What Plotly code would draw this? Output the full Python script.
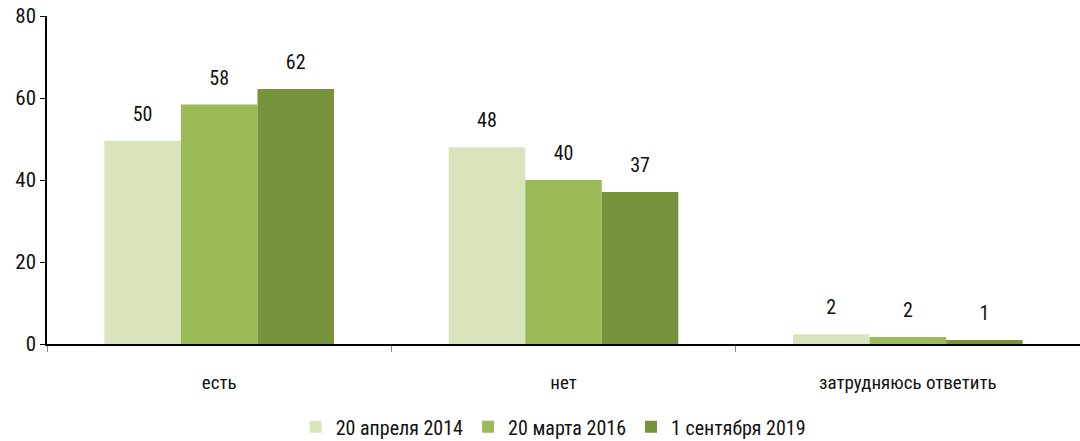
import plotly.graph_objects as go

# Survey answers and the three poll dates
categories = ["есть", "нет", "затрудняюсь ответить"]
series_names = ["20 апреля 2014", "20 марта 2016", "1 сентября 2019"]
values_2014 = [49.6, 48.0, 2.4]
values_2016 = [58.4, 40.0, 1.7]
values_2019 = [62.2, 37.1, 1.0]
labels_2014 = ["50", "48", "2"]
labels_2016 = ["58", "40", "2"]
labels_2019 = ["62", "37", "1"]

colors = ["#d8e4bc", "#9bbb59", "#77933c"]
font_family = "Liberation Sans Narrow, Roboto Condensed, Roboto, sans-serif"

fig = go.Figure()

series = [
    (series_names[0], values_2014, labels_2014),
    (series_names[1], values_2016, labels_2016),
    (series_names[2], values_2019, labels_2019),
]

for i, (name, vals, labels) in enumerate(series):
    fig.add_trace(go.Bar(
        x=categories,
        y=vals,
        name=name,
        marker=dict(color=colors[i], line=dict(width=0)),
        offsetgroup=str(i),
    ))
    # invisible markers carry the value labels a bit above the bars
    fig.add_trace(go.Scatter(
        x=categories,
        y=vals,
        mode="markers+text",
        text=labels,
        textposition="top center",
        textfont=dict(size=20, color="#111111", family=font_family),
        marker=dict(size=22, opacity=0),
        offsetgroup=str(i),
        showlegend=False,
        hoverinfo="skip",
        cliponaxis=False,
    ))

fig.update_layout(
    width=1080,
    height=441,
    barmode="group",
    scattermode="group",
    bargap=0.333,
    bargroupgap=0,
    plot_bgcolor="white",
    paper_bgcolor="white",
    margin=dict(l=47, r=0, t=16, b=97, autoexpand=False),
    font=dict(family=font_family, size=18, color="#111111"),
    legend=dict(
        orientation="h",
        x=0.49,
        xanchor="center",
        y=-0.193,
        yanchor="top",
        font=dict(size=20),
        itemwidth=30,
        traceorder="normal",
    ),
    showlegend=True,
)

fig.update_xaxes(
    showline=True,
    linecolor="black",
    linewidth=1.5,
    ticks="outside",
    tickson="boundaries",
    ticklen=6,
    tickcolor="#888888",
    tickfont=dict(size=19),
    ticklabelstandoff=20,
    showgrid=False,
    automargin=False,
)

fig.update_yaxes(
    range=[0, 80],
    tickvals=[0, 20, 40, 60, 80],
    showline=True,
    linecolor="black",
    linewidth=1.5,
    ticks="outside",
    ticklen=5,
    tickcolor="black",
    tickfont=dict(size=21),
    showgrid=False,
    zeroline=False,
    automargin=False,
)

# drop the page's default body margin so the figure sits at the top-left corner
fig.write_html(
    "out.html",
    config={"displayModeBar": False},
    post_script="document.body.style.margin='0px';",
)
